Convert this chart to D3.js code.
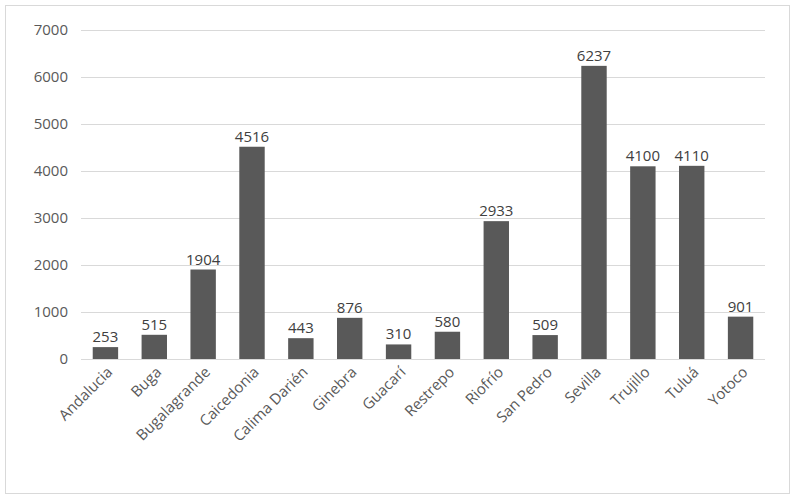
<!DOCTYPE html>
<html>
<head>
<meta charset="utf-8">
<script src="https://cdn.jsdelivr.net/npm/d3@7"></script>
<style>
body { margin: 0; background: #fff; }
text { font-family: "Open Sans", "Noto Sans", sans-serif; fill: #595959; }
</style>
</head>
<body>
<div id="chart"></div>
<script>
const municipios = ["Andalucia", "Buga", "Bugalagrande", "Caicedonia", "Calima Darién", "Ginebra", "Guacarí", "Restrepo", "Riofrío", "San Pedro", "Sevilla", "Trujillo", "Tuluá", "Yotoco"];
const valores = [253, 515, 1904, 4516, 443, 876, 310, 580, 2933, 509, 6237, 4100, 4110, 901];
const yTicks = [0, 1000, 2000, 3000, 4000, 5000, 6000, 7000];

const svg = d3.select("#chart").append("svg")
    .attr("width", 793)
    .attr("height", 503);

svg.append("rect")
    .attr("x", 5.5).attr("y", 5.5)
    .attr("width", 784).attr("height", 488)
    .attr("fill", "#fff")
    .attr("stroke", "#d9d9d9");

const x = d3.scaleBand()
    .domain(municipios)
    .range([81, 765])
    .paddingInner(0.48)
    .paddingOuter(0.24);

const y = d3.scaleLinear()
    .domain([0, 7000])
    .range([359, 30]);

// gridlines
svg.selectAll(".grid")
    .data(yTicks)
    .enter().append("line")
    .attr("x1", 81).attr("x2", 765)
    .attr("y1", d => Math.round(y(d)) + 0.5)
    .attr("y2", d => Math.round(y(d)) + 0.5)
    .attr("stroke", "#d9d9d9");

svg.selectAll(".ylab")
    .data(yTicks)
    .enter().append("text")
    .attr("x", 68)
    .attr("y", d => y(d) + 5)
    .attr("text-anchor", "end")
    .style("font-size", "15px")
    .text(d => d);

svg.selectAll(".bar")
    .data(valores)
    .enter().append("rect")
    .attr("x", (d, i) => x(municipios[i]))
    .attr("width", x.bandwidth())
    .attr("y", d => y(d))
    .attr("height", d => y(0) - y(d))
    .attr("fill", "#595959");

svg.selectAll(".vlab")
    .data(valores)
    .enter().append("text")
    .attr("x", (d, i) => x(municipios[i]) + x.bandwidth() / 2)
    .attr("y", d => y(d) - 5)
    .attr("text-anchor", "middle")
    .style("font-size", "15px")
    .style("fill", "#404040")
    .text(d => d);

svg.selectAll(".xlab")
    .data(municipios)
    .enter().append("text")
    .attr("transform", d => `translate(${x(d) + x.bandwidth() / 2 + 8},${373}) rotate(-45)`)
    .attr("text-anchor", "end")
    .style("font-size", "15px")
    .text(d => d);
</script>
</body>
</html>
